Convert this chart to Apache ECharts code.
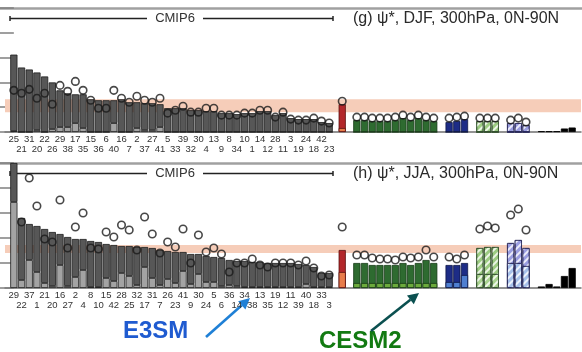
<!DOCTYPE html>
<html><head><meta charset="utf-8">
<script src="https://cdn.jsdelivr.net/npm/echarts@6/dist/echarts.min.js"></script>
<style>html,body{margin:0;padding:0;background:#fff}#c{width:582px;height:352px}</style>
</head><body><div id="c"></div>
<script>
// ---------- DATA (bar heights on a 0-125 scale, ticks every 25) ----------
const cmipLabelsDJF = ['25','21','31','20','22','26','29','38','17','35','15','36','6','40','16','7','2','37','27','41','5','33','39','32','30','4','13','9','8','34','10','1','14','12','28','11','3','19','24','18','42','23'];
const cmipDJF      = [78,65,63,60,56,50,42,39,38,38, 33,32,32,32,33,30,30,29,29,28, 24,24,24,22,22,21,21,19,19,18, 19,19,21,21,17,19,14,13,13,13, 10,9];
const cmipDJFLow   = [1,0,0,2,0,3,5,5,9,4, 0,0,0,9,0,0,4,2,2,5, 0,0,0,0,0,0,0,0,0,0, 0,0,0,0,0,0,0,0,0,0, 0,0];
const cmipDJFDots  = [42,39,43,34,39,28,47,41,51,42, 32,24,24,42,34,30,36,32,30,34, 19,22,26,20,20,24,24,17,17,17, 19,19,22,22,15,20,13,12,12,14, 11,9];

const cmipLabelsJJA = ['29','22','37','1','21','20','16','27','2','4','8','10','15','42','28','25','32','17','31','7','26','23','41','9','30','24','5','6','36','14','34','38','13','35','19','12','11','39','40','18','33','3'];
const cmipJJA      = [125,70,64,62,59,56,54,51,49,49, 47,46,44,43,42,42,41,41,40,38, 37,36,36,34,34,32,31,30,28,27, 27,26,26,25,25,25,25,24,23,21, 15,15];
const cmipJJALow   = [86,8,28,16,5,2,23,2,11,18, 1,1,10,7,15,12,3,21,10,3, 9,5,17,4,14,6,6,2,3,2, 1,1,1,1,1,1,1,1,4,1, 1,1];
const cmipJJADots  = [null,66,110,82,49,46,88,40,61,75, 40,39,56,51,63,58,38,71,54,35, 46,41,59,25,53,36,40,34,16,25, 25,29,23,21,25,25,25,23,27,20, 12,13];

const obsDJF = [28], obsDJFLow = [4], obsDJFDots = [31];
const cesm2DJF = [12,12,11,11,11,12,14,12,14,12,11], cesm2DJFLow = [0,0,0,0,0,0,0,0,0,0,0];
const cesm2DJFDots = [15,15,14,14,14,15,17,15,17,15,14];
const blueDJF = [10,11,13], blueDJFLow = [0,0,0], blueDJFDots = [14,15,16];
const gHatchDJF = [11,11,11], gHatchDJFLow = [0,0,0], gHatchDJFDots = [14,14,14];
const pHatchDJF = [9,9,7], pHatchDJFLow = [0,0,0], pHatchDJFDots = [12,14,10];
const blackDJF = [0.8,0.8,0.8,3.5,4.5];

const obsJJA = [38], obsJJALow = [16], obsJJADots = [61];
const cesm2JJA = [25,25,23,23,23,23,25,23,25,28,25], cesm2JJALow = [5,5,5,5,5,5,5,5,5,5,5];
const cesm2JJADots = [33,33,30,29,29,28,31,30,31,38,31];
const blueJJA = [23,23,25], blueJJALow = [6,6,13], blueJJADots = [31,29,33];
const gHatchJJA = [40,41,41], gHatchJJALow = [14,14,14], gHatchJJADots = [59,62,60];
const pHatchJJA = [45,48,40], pHatchJJALow = [25,25,22], pHatchJJADots = [73,79,58];
const blackJJA = [1.5,4,1.5,12,20];

const bandDJF = [20, 33];
const bandJJA = [35, 43];
const titles = ['(g) ψ*, DJF, 300hPa, 0N-90N', '(h) ψ*, JJA, 300hPa, 0N-90N'];

// ---------- LAYOUT ----------
const FONT = "'Liberation Sans', Arial, sans-serif";
const XMIN = -1.15, XMAX = 73.75;
const groupStart = {obs: 42.7, cesm2: 44.6, blue: 56.6, gh: 60.6, ph: 64.6, black: 68.6};
const hatch = {symbol:'rect', symbolSize:1, color:'rgba(255,255,255,0.8)', dashArrayX:[1,0], dashArrayY:[1.6,2.6], rotation:-Math.PI/4};

const panels = [
  {top: 8, height: 124, labels: cmipLabelsDJF, bars: cmipDJF, low: cmipDJFLow, dots: cmipDJFDots, band: bandDJF,
   groups: [
     {key:'obs', v: obsDJF, low: obsDJFLow, dots: obsDJFDots, c:'#b3272a', lc:'#e87c4a', b:'#5a1010'},
     {key:'cesm2', v: cesm2DJF, low: cesm2DJFLow, dots: cesm2DJFDots, c:'#2e6b30', lc:'#6caa3c', b:'#173a17'},
     {key:'blue', v: blueDJF, low: blueDJFLow, dots: blueDJFDots, c:'#1d2c86', lc:'#4f7fd0', b:'#0e1645'},
     {key:'gh', v: gHatchDJF, low: gHatchDJFLow, dots: gHatchDJFDots, c:'#9ccb82', lc:'#9ccb82', b:'#33502f', hatch:true},
     {key:'ph', v: pHatchDJF, low: pHatchDJFLow, dots: pHatchDJFDots, c:'#9a9de0', lc:'#a6c0ea', b:'#2a2a5a', hatch:true},
     {key:'black', v: blackDJF, low: null, dots: null, c:'#000', lc:'#000', b:'#000'}
   ]},
  {top: 163, height: 125, labels: cmipLabelsJJA, bars: cmipJJA, low: cmipJJALow, dots: cmipJJADots, band: bandJJA,
   groups: [
     {key:'obs', v: obsJJA, low: obsJJALow, dots: obsJJADots, c:'#b3272a', lc:'#e87c4a', b:'#5a1010'},
     {key:'cesm2', v: cesm2JJA, low: cesm2JJALow, dots: cesm2JJADots, c:'#2e6b30', lc:'#6caa3c', b:'#173a17'},
     {key:'blue', v: blueJJA, low: blueJJALow, dots: blueJJADots, c:'#1d2c86', lc:'#4f7fd0', b:'#0e1645'},
     {key:'gh', v: gHatchJJA, low: gHatchJJALow, dots: gHatchJJADots, c:'#9ccb82', lc:'#a9d38f', b:'#33502f', hatch:true},
     {key:'ph', v: pHatchJJA, low: pHatchJJALow, dots: pHatchJJADots, c:'#9a9de0', lc:'#a6c0ea', b:'#2a2a5a', hatch:true},
     {key:'black', v: blackJJA, low: null, dots: null, c:'#000', lc:'#000', b:'#000'}
   ]}
];

const grid = [], xAxis = [], yAxis = [], series = [], title = [], graphic = [];
const dotStyle = {color:'rgba(0,0,0,0)', borderColor:'#1a1a1a', borderWidth:1.6};

panels.forEach((P, p) => {
  const gF = 3*p, gA = 3*p+1, gC = 3*p+2;
  // frame grid (top line)
  grid.push({left:0, right:0, top:P.top, height:P.height});
  xAxis.push({gridIndex:gF, type:'value', min:0, max:1, position:'top',
    axisLine:{show:true, onZero:false, lineStyle:{color:'#a0a0a0', width:2.5}},
    axisTick:{show:false}, axisLabel:{show:false}, splitLine:{show:false}});
  yAxis.push({gridIndex:gF, type:'value', min:0, max:1, show:false});
  // full-width grid
  grid.push({left:5, right:1, top:P.top, height:P.height});
  xAxis.push({gridIndex:gA, type:'value', min:XMIN, max:XMAX,
    axisLine:{show:true, lineStyle:{color:'#707070', width:1.5}},
    axisTick:{show:false}, axisLabel:{show:false}, splitLine:{show:false}});
  yAxis.push({gridIndex:gA, type:'value', min:0, max:125, interval:25, position:'right',
    axisLine:{show:false}, axisTick:{show:true, inside:true, length:15, lineStyle:{color:'#808080', width:1.5}},
    axisLabel:{show:false}, splitLine:{show:false}});
  // CMIP6 category grid
  grid.push({left:10, width:323, top:P.top, height:P.height});
  xAxis.push({gridIndex:gC, type:'category', data:P.labels,
    axisLine:{show:false}, axisTick:{show:false},
    axisLabel:{interval:0, margin:2, fontSize:9.5, lineHeight:10.5, color:'#333', fontFamily:FONT,
      formatter:(v, i) => (i % 2 ? '\n' + v : v)}});
  yAxis.push({gridIndex:gC, type:'value', min:0, max:125, show:false});

  // observational band
  series.push({type:'line', xAxisIndex:gA, yAxisIndex:gA, data:[], silent:true, z:1,
    markArea:{silent:true, itemStyle:{color:'#f6cdb9'}, data:[[{xAxis:XMIN, yAxis:P.band[0]}, {xAxis:XMAX, yAxis:P.band[1]}]]}});

  // CMIP6 stacked bars
  series.push({type:'bar', xAxisIndex:gC, yAxisIndex:gC, stack:'cmip'+p, data:P.low, barCategoryGap:'6%', z:2,
    itemStyle:{color:'#a3a3a3', borderColor:'#1c1c1c', borderWidth:0.8}});
  series.push({type:'bar', xAxisIndex:gC, yAxisIndex:gC, stack:'cmip'+p, data:P.bars.map((v,i)=>v-P.low[i]), barCategoryGap:'6%', z:2,
    itemStyle:{color:'#575757', borderColor:'#1c1c1c', borderWidth:0.8}});
  series.push({type:'scatter', xAxisIndex:gC, yAxisIndex:gC, data:P.dots.map(v => v === null ? '-' : v),
    symbol:'circle', symbolSize:7.5, itemStyle:dotStyle, z:5});

  // other model groups
  P.groups.forEach(G => {
    const x0 = groupStart[G.key];
    const full = {type:'bar', xAxisIndex:gA, yAxisIndex:gA, barWidth:7.2, barGap:'-100%', z:2,
      data:G.v.map((v,i)=>[x0+i, v]),
      itemStyle:{color:G.c, borderColor:G.b, borderWidth:0.8}};
    if (G.hatch) full.itemStyle.decal = hatch;
    series.push(full);
    if (G.low) {
      const lo = {type:'bar', xAxisIndex:gA, yAxisIndex:gA, barWidth:7.2, barGap:'-100%', z:3,
        data:G.low.map((v,i)=>[x0+i, v]),
        itemStyle:{color:G.lc, borderColor:G.b, borderWidth:0.8}};
      if (G.hatch) lo.itemStyle.decal = hatch;
      series.push(lo);
    }
    if (G.dots) {
      series.push({type:'scatter', xAxisIndex:gA, yAxisIndex:gA, data:G.dots.map((v,i)=>[x0+i, v]),
        symbol:'circle', symbolSize:7.5, itemStyle:dotStyle, z:5});
    }
  });

  title.push({text:titles[p], left:353, top:P.top + 3, padding:0,
    textStyle:{fontSize:16, fontWeight:'normal', color:'#2a2a2a', fontFamily:FONT}});

  // CMIP6 header bracket
  const Y = P.top + 10.5;
  const st = {stroke:'#222', lineWidth:1.5};
  graphic.push({type:'line', shape:{x1:10, y1:Y, x2:147, y2:Y}, style:st});
  graphic.push({type:'line', shape:{x1:10, y1:Y-2.5, x2:10, y2:Y+2.5}, style:st});
  graphic.push({type:'line', shape:{x1:203, y1:Y, x2:333, y2:Y}, style:st});
  graphic.push({type:'line', shape:{x1:333, y1:Y-2.5, x2:333, y2:Y+2.5}, style:st});
  graphic.push({type:'text', style:{text:'CMIP6', x:175, y:Y, align:'center', verticalAlign:'middle', font:"13px 'Liberation Sans', Arial, sans-serif", fill:'#333'}});
});

function arrow(x1, y1, x2, y2, color) {
  const L = 11, W = 5.5;
  const dx = x2 - x1, dy = y2 - y1, d = Math.hypot(dx, dy);
  const ux = dx / d, uy = dy / d;
  const bx = x2 - ux * L, by = y2 - uy * L;
  graphic.push({type:'line', shape:{x1, y1, x2:bx, y2:by}, style:{stroke:color, lineWidth:2.6}});
  graphic.push({type:'polygon', shape:{points:[[x2, y2], [bx - uy*W, by + ux*W], [bx + uy*W, by - ux*W]]}, style:{fill:color}});
}
graphic.push({type:'text', style:{text:'E3SM', x:123, y:331, align:'left', verticalAlign:'middle', font:"bold 24px 'Liberation Sans', Arial, sans-serif", fill:'#1f5bd0'}});
arrow(206, 337, 250, 298, '#1f80d6');
graphic.push({type:'text', style:{text:'CESM2', x:319, y:341, align:'left', verticalAlign:'middle', font:"bold 24px 'Liberation Sans', Arial, sans-serif", fill:'#137a12'}});
arrow(371, 331, 419, 293, '#0b5050');

const chart = echarts.init(document.getElementById('c'), null, {renderer:'canvas'});
chart.setOption({animation:false, backgroundColor:'#fff', title, grid, xAxis, yAxis, series, graphic});
</script>
</body></html>
